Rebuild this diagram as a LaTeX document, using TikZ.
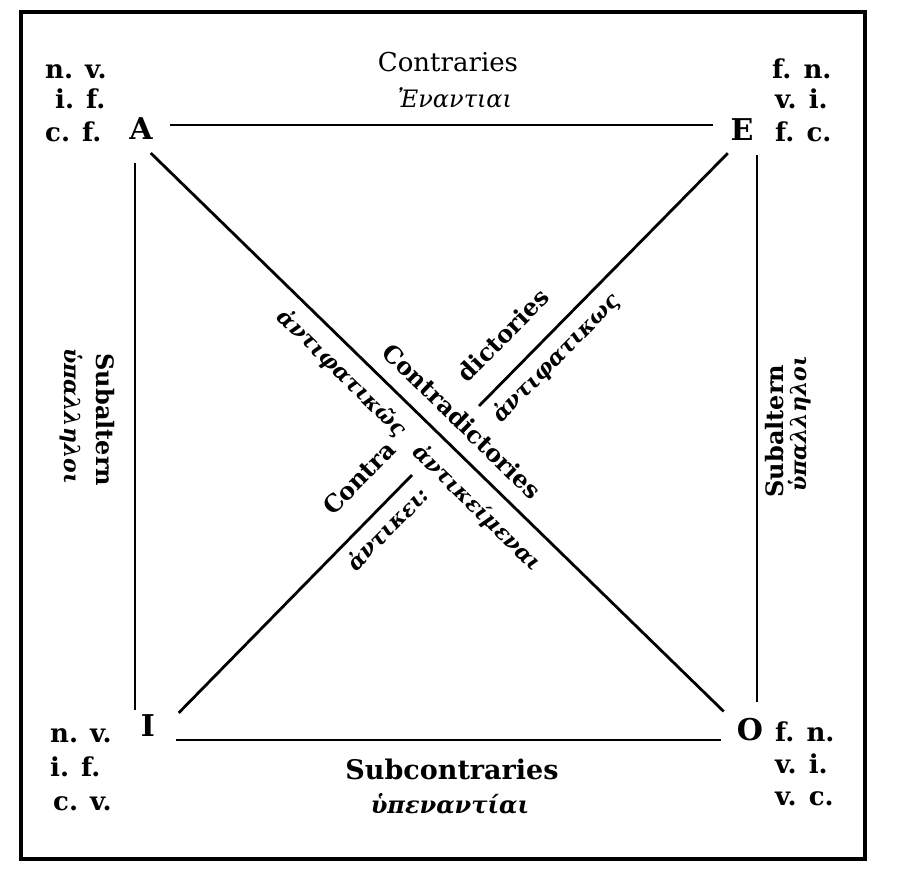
\documentclass[tikz,border=0pt]{standalone}
\usepackage{fontspec}
\setmainfont{DejaVu Serif}
\begin{document}
\begin{tikzpicture}[x=1pt,y=-1pt,
    corner/.style={inner sep=0pt,font=\fontsize{30}{30}\selectfont\bfseries},
    mood/.style={inner sep=0pt,anchor=base west,font=\fontsize{26}{26}\selectfont\bfseries},
    rel/.style={inner sep=0pt,font=\fontsize{24}{24}\selectfont\bfseries},
    grk/.style={inner sep=0pt,font=\fontsize{22}{22}\selectfont\bfseries\itshape},
    arm/.style={line width=2.8pt}]
  \useasboundingbox (0,0) rectangle (903,883);
  \draw[line width=3.4pt] (21,12) rectangle (865,859);

  % the four propositions
  \node[corner] (A) at (141,129) {A};
  \node[corner] (E) at (742,130) {E};
  \node[corner] (I) at (148,726) {I};
  \node[corner] (O) at (750,730) {O};

  \node[mood] (Anv) at (45,78) {n. v.};
  \node[mood] (Aif) at (55,108) {i. f.};
  \node[mood] (Acf) at (45,141) {c. f.};
  \node[mood] (Efn) at (772,78) {f. n.};
  \node[mood] (Evi) at (775,108) {v. i.};
  \node[mood] (Efc) at (775,141) {f. c.};
  \node[mood] (Inv) at (50,742) {n. v.};
  \node[mood] (Iif) at (50,776) {i. f.};
  \node[mood] (Icv) at (53,810) {c. v.};
  \node[mood] (Ofn) at (775,741) {f. n.};
  \node[mood] (Ovi) at (775,773) {v. i.};
  \node[mood] (Ovc) at (775,805) {v. c.};

  % sides
  \draw[arm] ([shift={(17,-4)}]A.east) -- ([shift={(-17,-5)}]E.west);
  \draw[arm] ([shift={(21,14)}]I.east) -- ([shift={(-16,10)}]O.west);
  \draw[arm] ([shift={(-6,23)}]A.south) -- ([shift={(-13,-5)}]I.north);
  \draw[arm] ([shift={(15,14)}]E.south) -- ([shift={(7,-16)}]O.north);

  % diagonals
  \coordinate (gapE) at (479,406);
  \coordinate (gapI) at (412,475);
  \draw[arm] ([shift={(-2,13)}]A.south east) -- ([shift={(-13,-7)}]O.north west);
  \draw[arm] ([shift={(-2.5,12)}]E.south west) -- (gapE);
  \draw[arm] (gapI) -- ([shift={(23.5,-2)}]I.north east);

  \node[font=\fontsize{26}{26}\selectfont] (contrary) at (448,62) {Contraries};
  \node[font=\fontsize{24}{24}\selectfont\itshape] (contraryG) at (455,98) {Ἐναντιαι};
  \node[font=\fontsize{27}{27}\selectfont\bfseries] (subcontrary) at (452,769) {Subcontraries};
  \node[font=\fontsize{24}{24}\selectfont\bfseries\itshape] (subcontraryG) at (450,804) {ὑπεναντίαι};

  \node[rel,rotate=-90] (subL) at (105,420) {Subaltern};
  \node[grk,rotate=-90] (subLG) at (71,416) {ὑπαλληλοι};
  \node[rel,rotate=90] (subR) at (775,431) {Subaltern};
  \node[grk,rotate=90] (subRG) at (800,424) {ὑπαλληλοι};

  \node[rel,rotate=-44.2] (contradict) at (462,421) {Contradictories};
  \node[grk,rotate=-44.2] (antikeim) at (477,508) {ἀντικείμεναι};
  \node[grk,rotate=-44.2] (antiphL) at (342,373) {ἀντιφατικῶς};
  \node[rel,rotate=45.5] (dict) at (503,335) {dictories};
  \node[grk,rotate=45.5] (antiphR) at (556,358) {ἀντιφατικως};
  \node[rel,rotate=45.5] (contra) at (359,478) {Contra};
  \node[grk,rotate=45.5] (antikei) at (387,528) {ἀντικει:};
\end{tikzpicture}
\end{document}
